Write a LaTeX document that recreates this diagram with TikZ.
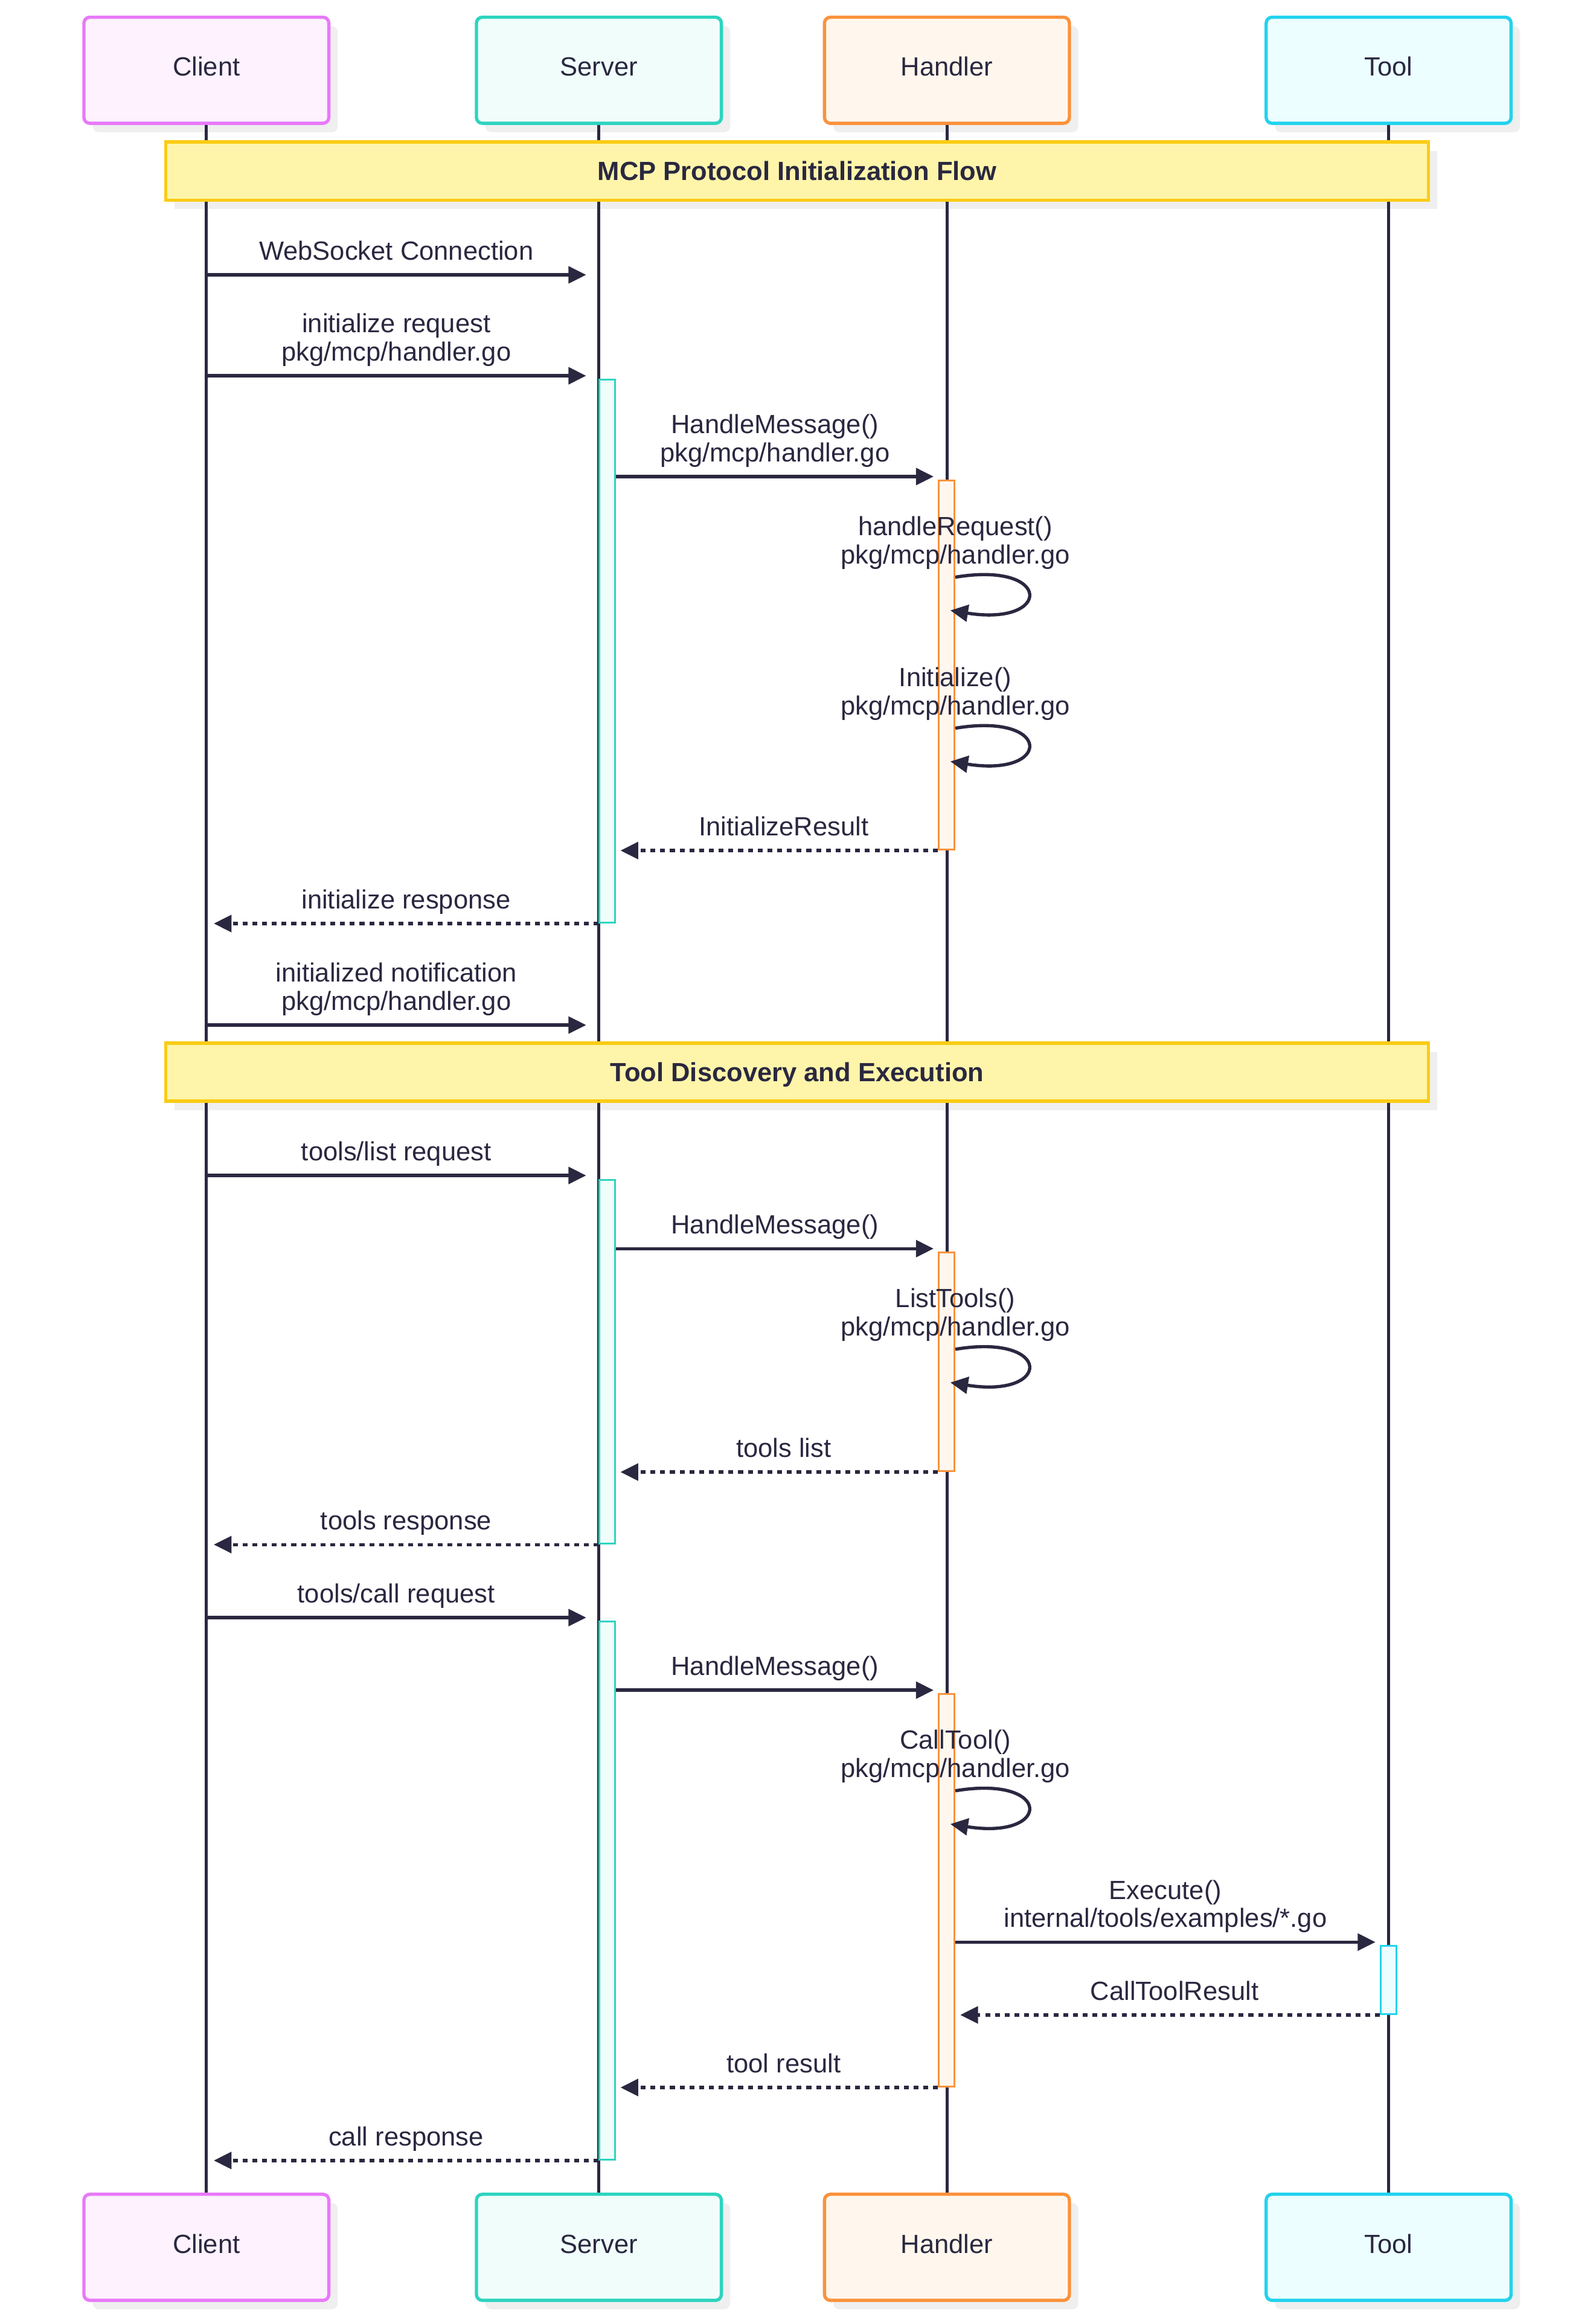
\documentclass[tikz,border=0pt]{standalone}
\usepackage{fontspec}
\setmainfont{Liberation Sans}
\usetikzlibrary{arrows.meta,shadows}

\definecolor{ink}{HTML}{2A2840}
\definecolor{clientline}{HTML}{E879F9}
\definecolor{clientfill}{HTML}{FDF2FD}
\definecolor{serverline}{HTML}{2DD4BF}
\definecolor{serverfill}{HTML}{F0FDFA}
\definecolor{handlerline}{HTML}{FB923C}
\definecolor{handlerfill}{HTML}{FFF7ED}
\definecolor{toolline}{HTML}{22D3EE}
\definecolor{toolfill}{HTML}{ECFEFF}
\definecolor{noteline}{HTML}{FACC15}
\definecolor{notefill}{HTML}{FEF5AA}
\definecolor{shadowgray}{HTML}{EFEFEF}

\begin{document}
\begin{tikzpicture}[x=1pt, y=-1pt,
  every node/.style = {text=ink, font=\fontsize{17.8}{19}\selectfont},
  boxshadow/.style  = {drop shadow={shadow xshift=6pt, shadow yshift=-6pt,
                                    fill=shadowgray, opacity=1}},
  actor/.style      = {draw=#1line, fill=#1fill, line width=2.2pt,
                       rounded corners=4pt, boxshadow,
                       minimum width=165.8pt, minimum height=71.8pt,
                       inner sep=0pt, text height=12.75pt, text depth=5pt},
  note/.style       = {draw=noteline, fill=notefill, line width=2.2pt, boxshadow,
                       minimum width=854.8pt, minimum height=39.3pt, inner sep=0pt,
                       font=\fontsize{17.8}{19}\selectfont\bfseries,
                       text height=12.75pt, text depth=0pt},
  life/.style       = {draw=ink, line width=2pt},
  bar/.style        = {draw=#1line, fill=#1fill, line width=1.2pt},
  msg/.style        = {draw=ink, line width=2.2pt,
                       -{Triangle[length=12pt, width=11.3pt]}},
  ret/.style        = {msg, dash pattern=on 3.3pt off 3.3pt},
  lbl/.style        = {anchor=south, inner sep=0pt, align=center, yshift=3.3pt,
                       execute at end node=\strut}]
  \fill[white] (0,0) rectangle (1080,1566);
  \useasboundingbox (0,0) rectangle (1080,1566);

  \node [actor=client]  (clientT)  at (139.7,47.55)   {Client};
  \node [actor=server]  (serverT)  at (405.4,47.55)   {Server};
  \node [actor=handler] (handlerT) at (641,47.55)     {Handler};
  \node [actor=tool]    (toolT)    at (940,47.55)     {Tool};
  \node [actor=client]  (clientB)  at (139.7,1520.85) {Client};
  \node [actor=server]  (serverB)  at (405.4,1520.85) {Server};
  \node [actor=handler] (handlerB) at (641,1520.85)   {Handler};
  \node [actor=tool]    (toolB)    at (940,1520.85)   {Tool};

  \node [note] (initNote) at (539.6,115.75) {MCP Protocol Initialization Flow};
  \node [note] (toolNote) at (539.6,725.55) {Tool Discovery and Execution};

  \draw [life] (clientT) -- (clientT |- initNote.north)
               (clientT |- initNote.south) -- (clientT |- toolNote.north)
               (clientT |- toolNote.south) -- (clientB);
  \draw [life] (serverT) -- (serverT |- initNote.north)
               (serverT |- initNote.south) -- (serverT |- toolNote.north)
               (serverT |- toolNote.south) -- (serverB);
  \draw [life] (handlerT) -- (handlerT |- initNote.north)
               (handlerT |- initNote.south) -- (handlerT |- toolNote.north)
               (handlerT |- toolNote.south) -- (handlerB);
  \draw [life] (toolT) -- (toolT |- initNote.north)
               (toolT |- initNote.south) -- (toolT |- toolNote.north)
               (toolT |- toolNote.south) -- (toolB);

  \draw [bar=server]  (405.7,256.9) rectangle (416.5,624.4);
  \draw [bar=server]  (405.7,798.5) rectangle (416.5,1044.7);
  \draw [bar=server]  (405.7,1097.4) rectangle (416.5,1461.5);
  \draw [bar=handler] (635.6,325.1) rectangle (646.1,575.0);
  \draw [bar=handler] (635.6,847.6) rectangle (646.1,995.6);
  \draw [bar=handler] (635.6,1146.4) rectangle (646.1,1412.1);
  \draw [bar=tool]    (934.8,1316.9) rectangle (945.4,1363.0);

  \coordinate (ws-a) at (139.7,186.0);   \coordinate (ws-b) at (396.8,186.0);
  \draw [msg] (ws-a) -- node [lbl] (wsL) {WebSocket Connection} (ws-b);
  \coordinate (ir-a) at (139.7,254.3);   \coordinate (ir-b) at (396.8,254.3);
  \draw [msg] (ir-a) -- node [lbl] (irL) {initialize request\\pkg/mcp/handler.go} (ir-b);
  \coordinate (hm1-a) at (417.1,322.5);  \coordinate (hm1-b) at (632,322.5);
  \draw [msg] (hm1-a) -- node [lbl] (hm1L) {HandleMessage()\\pkg/mcp/handler.go} (hm1-b);
  \coordinate (hr-a) at (646.7,390.6);   \coordinate (hr-b) at (643.3,413.1);
  \node [lbl] (hrL) at (hr-a) {handleRequest()\\pkg/mcp/handler.go};
  \draw [msg] (hr-a) .. controls +(66,-11) and +(69,11) .. (hr-b);
  \coordinate (in-a) at (646.7,492.8);   \coordinate (in-b) at (643.3,515.3);
  \node [lbl] (inL) at (in-a) {Initialize()\\pkg/mcp/handler.go};
  \draw [msg] (in-a) .. controls +(66,-11) and +(69,11) .. (in-b);
  \coordinate (res-a) at (635,575.6);    \coordinate (res-b) at (420,575.6);
  \draw [ret] (res-a) -- node [lbl, xshift=3pt] (resL) {InitializeResult} (res-b);
  \coordinate (rsp-a) at (405.1,625.0);  \coordinate (rsp-b) at (144.7,625.0);
  \draw [ret] (rsp-a) -- node [lbl] (rspL) {initialize response} (rsp-b);
  \coordinate (nt-a) at (139.7,693.7);   \coordinate (nt-b) at (396.8,693.7);
  \draw [msg] (nt-a) -- node [lbl] (ntL) {initialized notification\\pkg/mcp/handler.go} (nt-b);

  \coordinate (tl-a) at (139.7,795.5);   \coordinate (tl-b) at (396.8,795.5);
  \draw [msg] (tl-a) -- node [lbl] (tlL) {tools/list request} (tl-b);
  \coordinate (hm2-a) at (417.1,845.0);  \coordinate (hm2-b) at (632,845.0);
  \draw [msg] (hm2-a) -- node [lbl] (hm2L) {HandleMessage()} (hm2-b);
  \coordinate (lt-a) at (646.7,913.1);   \coordinate (lt-b) at (643.3,935.6);
  \node [lbl] (ltL) at (lt-a) {ListTools()\\pkg/mcp/handler.go};
  \draw [msg] (lt-a) .. controls +(66,-11) and +(69,11) .. (lt-b);
  \coordinate (ls-a) at (635,996.2);     \coordinate (ls-b) at (420,996.2);
  \draw [ret] (ls-a) -- node [lbl, xshift=3pt] (lsL) {tools list} (ls-b);
  \coordinate (trs-a) at (405.1,1045.3); \coordinate (trs-b) at (144.7,1045.3);
  \draw [ret] (trs-a) -- node [lbl] (trsL) {tools response} (trs-b);
  \coordinate (tc-a) at (139.7,1094.7);  \coordinate (tc-b) at (396.8,1094.7);
  \draw [msg] (tc-a) -- node [lbl] (tcL) {tools/call request} (tc-b);
  \coordinate (hm3-a) at (417.1,1143.8); \coordinate (hm3-b) at (632,1143.8);
  \draw [msg] (hm3-a) -- node [lbl] (hm3L) {HandleMessage()} (hm3-b);
  \coordinate (ct-a) at (646.7,1211.9);  \coordinate (ct-b) at (643.3,1234.4);
  \node [lbl] (ctL) at (ct-a) {CallTool()\\pkg/mcp/handler.go};
  \draw [msg] (ct-a) .. controls +(66,-11) and +(69,11) .. (ct-b);
  \coordinate (ex-a) at (646.7,1314.3);  \coordinate (ex-b) at (931.1,1314.3);
  \draw [msg] (ex-a) -- node [lbl] (exL) {Execute()\\internal/tools/examples/*.go} (ex-b);
  \coordinate (ctr-a) at (934.2,1363.6); \coordinate (ctr-b) at (650,1363.6);
  \draw [ret] (ctr-a) -- node [lbl, xshift=3pt] (ctrL) {CallToolResult} (ctr-b);
  \coordinate (tr-a) at (635,1412.7);    \coordinate (tr-b) at (420,1412.7);
  \draw [ret] (tr-a) -- node [lbl, xshift=3pt] (trL) {tool result} (tr-b);
  \coordinate (cr-a) at (405.1,1462.1);  \coordinate (cr-b) at (144.7,1462.1);
  \draw [ret] (cr-a) -- node [lbl] (crL) {call response} (cr-b);
\end{tikzpicture}
\end{document}
